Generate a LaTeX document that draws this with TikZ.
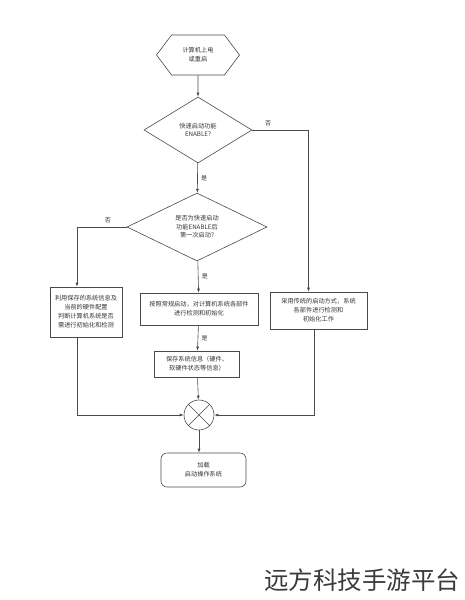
\documentclass[tikz,border=0pt]{standalone}
\usepackage{fontspec}
\setmainfont{Noto Sans CJK SC}
\usetikzlibrary{arrows.meta,positioning,shapes.geometric,shapes.symbols}
\definecolor{FlowLine}{HTML}{4A4A4A}
\definecolor{FlowText}{HTML}{333333}
\definecolor{FlowMark}{HTML}{3A3A3A}

\begin{document}
\begin{tikzpicture}[x=1pt,y=-1pt,line width=0.6pt,draw=FlowLine,
    boxnode/.style={draw,rectangle,inner sep=1pt,align=center,text=FlowText,font=\fontsize{6.2}{9}\selectfont},
    decide/.style={draw,diamond,inner sep=0pt,align=center,text=FlowText,font=\fontsize{6.2}{8.5}\selectfont},
    arr/.style={-{Latex[length=4pt,width=3pt]}},
    lbl/.style={text=FlowText,font=\fontsize{6}{7}\selectfont}]
  \useasboundingbox (0,0) rectangle (465,600);

  % nodes
  \node[draw,signal,signal to=west and east,signal pointer angle=106,minimum width=83pt,minimum height=40pt,
        inner sep=1pt,align=center,text=FlowText,font=\fontsize{6.2}{9}\selectfont] (start) at (198,55) {计算机上电\\或重启};
  \node[decide,minimum width=108pt,minimum height=66pt] (d1) at (198,130) {快速启动功能\\ENABLE?};
  \node[decide,minimum width=140pt,minimum height=68pt] (d2) at (197,227) {是否为快速启动\\功能ENABLE后\\第一次启动?};
  \node[boxnode,minimum width=72pt,minimum height=50pt] (left) at (86,312)
    {利用保存的系统信息及\\当前的硬件配置\\判断计算机系统是否\\需进行初始化和检测};
  \node[boxnode,minimum width=118pt,minimum height=32pt] (center) at (199,309)
    {按照常规启动，对计算机系统各部件\\进行检测和初始化};
  \node[boxnode,minimum width=97pt,minimum height=37pt] (right) at (318.5,310.5)
    {采用传统的启动方式，系统\\各部件进行检测和\\初始化工作};
  \node[boxnode,minimum width=85pt,minimum height=26pt] (save) at (197,364)
    {保存系统信息（硬件、\\软硬件状态等信息）};
  \node[draw,circle,minimum size=30pt,inner sep=0pt] (join) at (199,415) {};
  \draw (join.north west) -- (join.south east);
  \draw (join.north east) -- (join.south west);
  \node[boxnode,rounded corners=6pt,minimum width=85pt,minimum height=34pt] (end) at (203.5,470)
    {加载\\启动操作系统};

  % connectors
  \draw[arr] (start) -- (d1);
  \draw[arr] (d1.east) -| ([xshift=-10pt]right.north) node[lbl,pos=0.14,above] {否};
  \draw[arr] (d1) -- (d2) node[lbl,midway,right] {是};
  \draw[arr] (d2.west) -| ([xshift=-9pt]left.north) node[lbl,pos=0.19,above] {否};
  \draw[arr] (d2) -- (center) node[lbl,midway,right] {是};
  \draw[arr] (center) -- (save) node[lbl,midway,right] {是};
  \draw[arr] (save) -- (join);
  \draw[arr] ([xshift=-9pt]left.south) |- (join.west);
  \draw[arr] ([xshift=-4pt]right.south) |- (join.east);
  \draw[arr] (join) -- (join |- end.north);

  \node[text=FlowMark,font=\fontsize{24.5}{26}\selectfont] (mark) at (362,580) {远方科技手游平台};
\end{tikzpicture}
\end{document}
